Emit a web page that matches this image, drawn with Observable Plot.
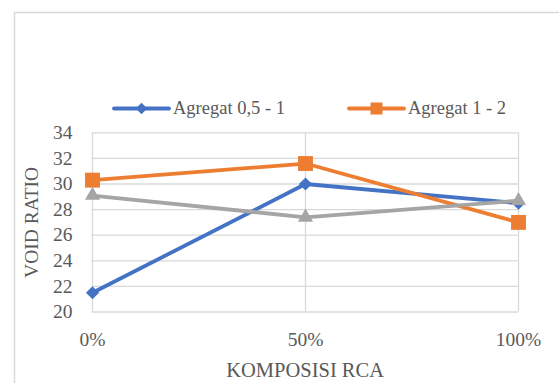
<!DOCTYPE html>
<html>
<head>
<meta charset="utf-8">
<script src="https://cdn.jsdelivr.net/npm/d3@7"></script>
<script src="https://cdn.jsdelivr.net/npm/@observablehq/plot@0.6"></script>
<style>
  html, body { margin: 0; padding: 0; background: #fff; }
  #chart { position: relative; width: 559px; height: 383px; overflow: hidden; }
  #chart svg { display: block; }
</style>
</head>
<body>
<div id="chart"></div>
<script>
// RCA composition on the x axis
const categories = ["0%", "50%", "100%"];
// Void ratio per aggregate size
const agregat05_1 = [21.5, 30.0, 28.5];
const agregat1_2 = [30.3, 31.6, 27.0];
const agregatAbu = [29.1, 27.4, 28.7];
const yTicks = [20, 22, 24, 26, 28, 30, 32, 34];

const seriesNames = ["Agregat 0,5 - 1", "Agregat 1 - 2", "Agregat"];
const seriesValues = [agregat05_1, agregat1_2, agregatAbu];
const colors = ["#4472C4", "#ED7D31", "#A5A5A5"];
const symbols = ["diamond2", "square", "triangle"];
const radii = [5.9, 8.4, 5.6];

const rows = seriesNames.flatMap((s, i) =>
  categories.map((c, j) => ({series: s, idx: i, cat: c, value: seriesValues[i][j]}))
);

const font = "'Liberation Serif', 'Times New Roman', serif";
const grid = "#d9d9d9";
const textColor = "#595959";

const seriesMarks = seriesNames.flatMap((s, i) => {
  const d = rows.filter(r => r.idx === i);
  return [
    Plot.line(d, {x: "cat", y: "value", stroke: colors[i], strokeWidth: 3.8, strokeLinejoin: "round", strokeLinecap: "round"}),
    Plot.dot(d, {x: "cat", y: "value", fill: colors[i], stroke: "none", symbol: () => symbols[i], r: radii[i]})
  ];
});

const plot = Plot.plot({
  width: 559,
  height: 383,
  marginLeft: 91.5,
  marginRight: 41.3,
  marginTop: 132.3,
  marginBottom: 71.5,
  style: {fontFamily: font, background: "transparent", overflow: "visible"},
  x: {type: "point", domain: categories, padding: 0},
  y: {domain: [20, 34]},
  symbol: {type: "identity"},
  marks: [
    Plot.ruleY(yTicks, {stroke: grid, strokeWidth: 1.3}),
    Plot.ruleX(categories, {stroke: grid, strokeWidth: 1.3}),
    Plot.axisY(yTicks, {tickSize: 0, tickPadding: 19.5, fontSize: 19.5, fill: textColor, label: null}),
    Plot.axisX({tickSize: 0, tickPadding: 20, fontSize: 19.5, fill: textColor, label: null}),
    Plot.text(["VOID RATIO"], {frameAnchor: "left", dx: -60, rotate: -90, textAnchor: "middle", lineAnchor: "middle", fontSize: 19.5, fill: textColor, text: d => d}),
    Plot.text(["KOMPOSISI RCA"], {frameAnchor: "bottom", dy: 58.5, textAnchor: "middle", lineAnchor: "middle", fontSize: 20.5, fill: textColor, text: d => d}),
    ...seriesMarks
  ]
});

document.getElementById("chart").appendChild(plot);

// chart frame and legend
const svg = d3.select(plot);
svg.insert("path", ":first-child")
  .attr("d", "M14.5,390 V12.5 H570")
  .attr("fill", "none")
  .attr("stroke", grid)
  .attr("stroke-width", 1.5);

const legendItems = [
  {name: seriesNames[0], color: colors[0], symbol: d3.symbolDiamond2, size: 85, x0: 114},
  {name: seriesNames[1], color: colors[1], symbol: d3.symbolSquare, size: 144, x0: 349}
];
const lg = svg.append("g").style("text-anchor", "start").style("font-family", font);
legendItems.forEach(it => {
  const g = lg.append("g").attr("transform", `translate(${it.x0},108.5)`);
  g.append("line").attr("x1", 0).attr("x2", 55).attr("stroke", it.color)
    .attr("stroke-width", 3.8).attr("stroke-linecap", "round");
  g.append("path").attr("d", d3.symbol(it.symbol, it.size)()).attr("transform", "translate(27.5,0)").attr("fill", it.color);
  g.append("text").attr("x", 59).attr("y", 0).attr("dy", "0.32em")
    .style("text-anchor", "start")
    .style("font-family", font).style("font-size", "18.5px").attr("fill", textColor)
    .text(it.name);
});
</script>
</body>
</html>
